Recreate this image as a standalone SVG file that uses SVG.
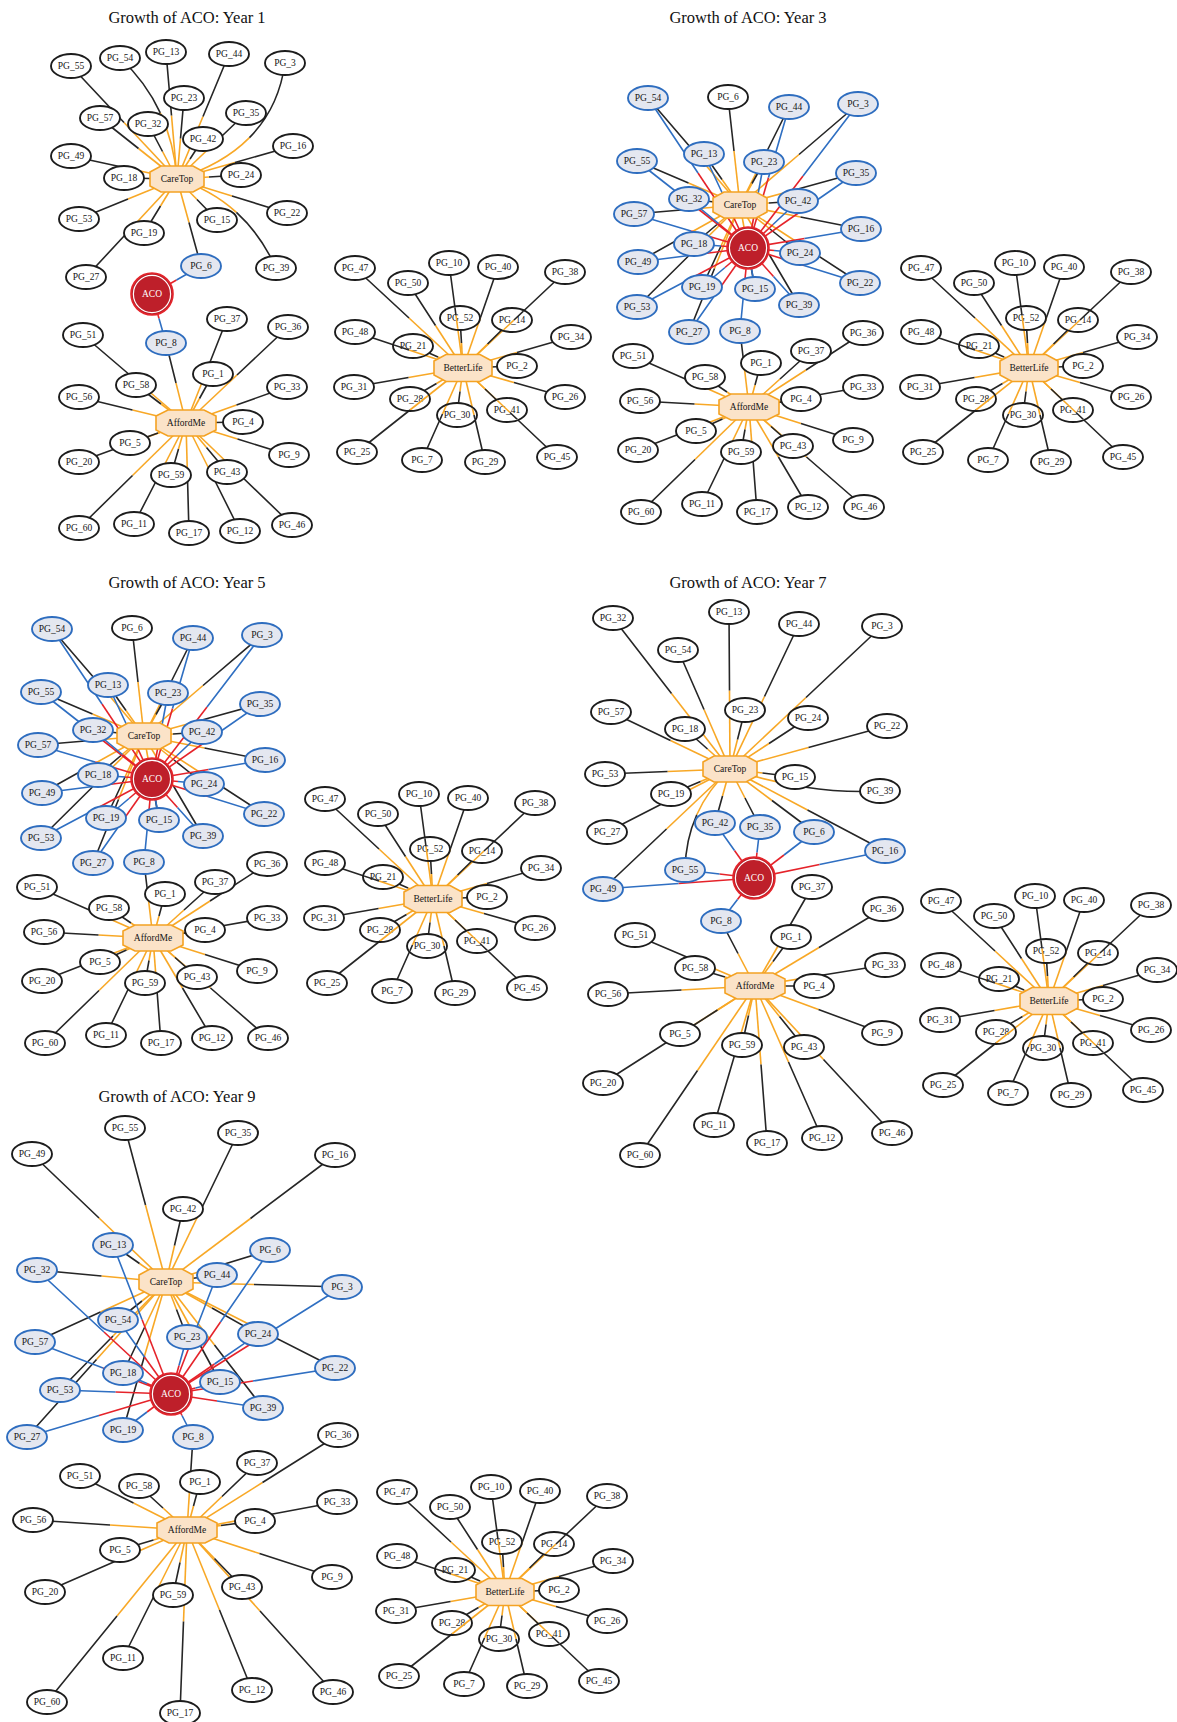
<svg xmlns="http://www.w3.org/2000/svg" xmlns:xlink="http://www.w3.org/1999/xlink" width="1177" height="1722" viewBox="0 0 1177 1722">
<style>
text{font-family:"Liberation Serif","Times New Roman",serif;font-size:9.5px;text-anchor:middle;fill:#151515}
.t{font-size:16.5px;fill:#111}
.n ellipse{fill:#fff;stroke:#1c1c1c;stroke-width:1.9}
.n.b ellipse{fill:#e4e7f0;stroke:#2e6dbf}
.hub use{fill:#fbe3c8;stroke:#f4a223;stroke-width:1.6}
.aco .c1{fill:#be1f2a;stroke:#e4252b;stroke-width:1.6}
.aco .c2{fill:none;stroke:#fff;stroke-width:1.2}
.aco text{fill:#fff}
.o{fill:none;stroke:#f8a826;stroke-width:1.6;stroke-dasharray:1 1}
.k{fill:none;stroke:#262626;stroke-width:1.6;stroke-dasharray:0 1 1 1}
.r{fill:none;stroke:#e5232a;stroke-width:1.6;stroke-dasharray:1 1}
.bl{fill:none;stroke:#2f6fc2;stroke-width:1.6;stroke-dasharray:0 1 1 1}
</style>
<defs>
<polygon id="octC" points="-27,-7 -16,-13 16,-13 27,-7 27,7 16,13 -16,13 -27,7"/>
<polygon id="octA" points="-30,-7 -18,-13 18,-13 30,-7 30,7 18,13 -18,13 -30,7"/>
<polygon id="octB" points="-29,-7 -17,-13.5 17,-13.5 29,-7 29,7 17,13.5 -17,13.5 -29,7"/>
<clipPath id="blx">
<ellipse cx="-3" cy="-50" rx="19" ry="11"/><ellipse cx="49" cy="-48" rx="19" ry="11"/><ellipse cx="-50" cy="-22" rx="19" ry="11"/><ellipse cx="-53" cy="31" rx="19" ry="11"/><ellipse cx="-6" cy="47" rx="19" ry="11"/><ellipse cx="44" cy="42" rx="19" ry="11"/>
</clipPath>
</defs>
<rect width="1177" height="1722" fill="#fff"/>

<!-- ================= YEAR 1 ================= -->
<g id="panel-year1">
<text class="t" x="187" y="23">Growth of ACO: Year 1</text>
<g id="y1-connectors">
<g class="o">
<path id="y1c55" d="M177 179L71 66" pathLength="2"/>
<path id="y1c54" d="M177 179Q171 105 120 58" pathLength="2"/>
<path id="y1c13" d="M177 179L166 52" pathLength="2"/>
<path id="y1c44" d="M177 179L229 54" pathLength="2"/>
<path id="y1c3" d="M177 179Q273 149 285 63" pathLength="2"/>
<path id="y1c57" d="M177 179L100 118" pathLength="2"/>
<path id="y1c32" d="M177 179L148 124" pathLength="2"/>
<path id="y1c23" d="M177 179L184 98" pathLength="2"/>
<path id="y1c35" d="M177 179L246 113" pathLength="2"/>
<path id="y1c42" d="M177 179L203 139" pathLength="2"/>
<path id="y1c16" d="M177 179L293 146" pathLength="2"/>
<path id="y1c49" d="M177 179L71 156" pathLength="2"/>
<path id="y1c18" d="M177 179L124 178" pathLength="2"/>
<path id="y1c24" d="M177 179L241 175" pathLength="2"/>
<path id="y1c22" d="M177 179L287 213" pathLength="2"/>
<path id="y1c53" d="M177 179L79 219" pathLength="2"/>
<path id="y1c15" d="M177 179L217 220" pathLength="2"/>
<path id="y1c19" d="M177 179L144 233" pathLength="2"/>
<path id="y1c39" d="M177 179Q245 200 276 268" pathLength="2"/>
<path id="y1c27" d="M177 179L86 277" pathLength="2"/>
<path id="y1c6" d="M177 179L201 266" pathLength="2"/>
<path id="y1f8" d="M186 423L166 343" pathLength="2"/>
<path id="y1f51" d="M186 423L83 335" pathLength="2"/>
<path id="y1f37" d="M186 423L227 319" pathLength="2"/>
<path id="y1f36" d="M186 423L288 327" pathLength="2"/>
<path id="y1f58" d="M186 423L136 385" pathLength="2"/>
<path id="y1f1" d="M186 423L213 374" pathLength="2"/>
<path id="y1f33" d="M186 423L287 387" pathLength="2"/>
<path id="y1f56" d="M186 423L79 397" pathLength="2"/>
<path id="y1f4" d="M186 423L243 422" pathLength="2"/>
<path id="y1f5" d="M186 423L130 443" pathLength="2"/>
<path id="y1f9" d="M186 423L289 455" pathLength="2"/>
<path id="y1f20" d="M186 423L79 462" pathLength="2"/>
<path id="y1f59" d="M186 423L171 475" pathLength="2"/>
<path id="y1f43" d="M186 423L227 472" pathLength="2"/>
<path id="y1f60" d="M186 423L79 528" pathLength="2"/>
<path id="y1f11" d="M186 423L134 524" pathLength="2"/>
<path id="y1f17" d="M186 423L189 533" pathLength="2"/>
<path id="y1f12" d="M186 423L240 531" pathLength="2"/>
<path id="y1f46" d="M186 423L292 525" pathLength="2"/>
</g>
<g class="k">
<use href="#y1c55"/><use href="#y1c54"/><use href="#y1c13"/><use href="#y1c44"/><use href="#y1c3"/><use href="#y1c57"/><use href="#y1c32"/><use href="#y1c23"/><use href="#y1c35"/><use href="#y1c42"/><use href="#y1c16"/><use href="#y1c49"/><use href="#y1c18"/><use href="#y1c24"/><use href="#y1c22"/><use href="#y1c53"/><use href="#y1c15"/><use href="#y1c19"/><use href="#y1c39"/><use href="#y1c27"/><use href="#y1c6"/>
<use href="#y1f8"/><use href="#y1f51"/><use href="#y1f37"/><use href="#y1f36"/><use href="#y1f58"/><use href="#y1f1"/><use href="#y1f33"/><use href="#y1f56"/><use href="#y1f4"/><use href="#y1f5"/><use href="#y1f9"/><use href="#y1f20"/><use href="#y1f59"/><use href="#y1f43"/><use href="#y1f60"/><use href="#y1f11"/><use href="#y1f17"/><use href="#y1f12"/><use href="#y1f46"/>
</g>
<g class="r">
<path id="y1a6" d="M152 294L201 266" pathLength="2"/>
<path id="y1a8" d="M152 294L166 343" pathLength="2"/>
</g>
<g class="bl"><use href="#y1a6"/><use href="#y1a8"/></g>
<g transform="translate(463 368)">
<g class="o">
<path id="y1b47" d="M0 0L-108-100" pathLength="2"/>
<path id="y1b10" d="M0 0L-14-105" pathLength="2"/>
<path id="y1b40" d="M0 0L35-101" pathLength="2"/>
<path id="y1b38" d="M0 0L102-96" pathLength="2"/>
<path id="y1b50" d="M0 0L-55-85" pathLength="2"/>
<path id="y1b52" d="M0 0L-3-50" pathLength="2"/>
<path id="y1b14" d="M0 0L49-48" pathLength="2"/>
<path id="y1b48" d="M0 0L-108-36" pathLength="2"/>
<path id="y1b21" d="M0 0L-50-22" pathLength="2"/>
<path id="y1b34" d="M0 0L108-31" pathLength="2"/>
<path id="y1b2" d="M0 0L54-2" pathLength="2"/>
<path id="y1b31" d="M0 0L-109 19" pathLength="2"/>
<path id="y1b26" d="M0 0L102 29" pathLength="2"/>
<path id="y1b28" d="M0 0L-53 31" pathLength="2"/>
<path id="y1b30" d="M0 0L-6 47" pathLength="2"/>
<path id="y1b41" d="M0 0L44 42" pathLength="2"/>
<path id="y1b25" d="M0 0L-106 84" pathLength="2"/>
<path id="y1b7" d="M0 0L-41 92" pathLength="2"/>
<path id="y1b29" d="M0 0L22 94" pathLength="2"/>
<path id="y1b45" d="M0 0L94 89" pathLength="2"/>
</g>
<g class="k"><use href="#y1b47"/><use href="#y1b10"/><use href="#y1b40"/><use href="#y1b38"/><use href="#y1b50"/><use href="#y1b52"/><use href="#y1b14"/><use href="#y1b48"/><use href="#y1b21"/><use href="#y1b34"/><use href="#y1b2"/><use href="#y1b31"/><use href="#y1b26"/><use href="#y1b28"/><use href="#y1b30"/><use href="#y1b41"/><use href="#y1b25"/><use href="#y1b7"/><use href="#y1b29"/><use href="#y1b45"/></g>
</g>
</g>
<g id="y1-nodes">
<g id="y1-pg55" class="n" transform="translate(71 66)"><ellipse rx="20" ry="12"/><text y="3.3">PG_55</text></g>
<g id="y1-pg54" class="n" transform="translate(120 58)"><ellipse rx="20" ry="12"/><text y="3.3">PG_54</text></g>
<g id="y1-pg13" class="n" transform="translate(166 52)"><ellipse rx="20" ry="12"/><text y="3.3">PG_13</text></g>
<g id="y1-pg44" class="n" transform="translate(229 54)"><ellipse rx="20" ry="12"/><text y="3.3">PG_44</text></g>
<g id="y1-pg3" class="n" transform="translate(285 63)"><ellipse rx="20" ry="12"/><text y="3.3">PG_3</text></g>
<g id="y1-pg57" class="n" transform="translate(100 118)"><ellipse rx="20" ry="12"/><text y="3.3">PG_57</text></g>
<g id="y1-pg32" class="n" transform="translate(148 124)"><ellipse rx="20" ry="12"/><text y="3.3">PG_32</text></g>
<g id="y1-pg23" class="n" transform="translate(184 98)"><ellipse rx="20" ry="12"/><text y="3.3">PG_23</text></g>
<g id="y1-pg35" class="n" transform="translate(246 113)"><ellipse rx="20" ry="12"/><text y="3.3">PG_35</text></g>
<g id="y1-pg42" class="n" transform="translate(203 139)"><ellipse rx="20" ry="12"/><text y="3.3">PG_42</text></g>
<g id="y1-pg16" class="n" transform="translate(293 146)"><ellipse rx="20" ry="12"/><text y="3.3">PG_16</text></g>
<g id="y1-pg49" class="n" transform="translate(71 156)"><ellipse rx="20" ry="12"/><text y="3.3">PG_49</text></g>
<g id="y1-pg18" class="n" transform="translate(124 178)"><ellipse rx="20" ry="12"/><text y="3.3">PG_18</text></g>
<g id="y1-pg24" class="n" transform="translate(241 175)"><ellipse rx="20" ry="12"/><text y="3.3">PG_24</text></g>
<g id="y1-pg22" class="n" transform="translate(287 213)"><ellipse rx="20" ry="12"/><text y="3.3">PG_22</text></g>
<g id="y1-pg53" class="n" transform="translate(79 219)"><ellipse rx="20" ry="12"/><text y="3.3">PG_53</text></g>
<g id="y1-pg15" class="n" transform="translate(217 220)"><ellipse rx="20" ry="12"/><text y="3.3">PG_15</text></g>
<g id="y1-pg19" class="n" transform="translate(144 233)"><ellipse rx="20" ry="12"/><text y="3.3">PG_19</text></g>
<g id="y1-pg39" class="n" transform="translate(276 268)"><ellipse rx="20" ry="12"/><text y="3.3">PG_39</text></g>
<g id="y1-pg27" class="n" transform="translate(86 277)"><ellipse rx="20" ry="12"/><text y="3.3">PG_27</text></g>
<g id="y1-pg6" class="n b" transform="translate(201 266)"><ellipse rx="20" ry="12"/><text y="3.3">PG_6</text></g>
<g id="y1-caretop" class="hub" transform="translate(177 179)"><use href="#octC"/><text y="3.3">CareTop</text></g>
<g id="y1-aco" class="aco" transform="translate(152 294)"><circle class="c1" r="21"/><circle class="c2" r="18.6"/><text y="3.3">ACO</text></g>
<g id="y1-pg8" class="n b" transform="translate(166 343)"><ellipse rx="20" ry="12"/><text y="3.3">PG_8</text></g>
<g id="y1-pg51" class="n" transform="translate(83 335)"><ellipse rx="20" ry="12"/><text y="3.3">PG_51</text></g>
<g id="y1-pg37" class="n" transform="translate(227 319)"><ellipse rx="20" ry="12"/><text y="3.3">PG_37</text></g>
<g id="y1-pg36" class="n" transform="translate(288 327)"><ellipse rx="20" ry="12"/><text y="3.3">PG_36</text></g>
<g id="y1-pg58" class="n" transform="translate(136 385)"><ellipse rx="20" ry="12"/><text y="3.3">PG_58</text></g>
<g id="y1-pg1" class="n" transform="translate(213 374)"><ellipse rx="20" ry="12"/><text y="3.3">PG_1</text></g>
<g id="y1-pg33" class="n" transform="translate(287 387)"><ellipse rx="20" ry="12"/><text y="3.3">PG_33</text></g>
<g id="y1-pg56" class="n" transform="translate(79 397)"><ellipse rx="20" ry="12"/><text y="3.3">PG_56</text></g>
<g id="y1-pg4" class="n" transform="translate(243 422)"><ellipse rx="20" ry="12"/><text y="3.3">PG_4</text></g>
<g id="y1-pg5" class="n" transform="translate(130 443)"><ellipse rx="20" ry="12"/><text y="3.3">PG_5</text></g>
<g id="y1-pg9" class="n" transform="translate(289 455)"><ellipse rx="20" ry="12"/><text y="3.3">PG_9</text></g>
<g id="y1-pg20" class="n" transform="translate(79 462)"><ellipse rx="20" ry="12"/><text y="3.3">PG_20</text></g>
<g id="y1-pg59" class="n" transform="translate(171 475)"><ellipse rx="20" ry="12"/><text y="3.3">PG_59</text></g>
<g id="y1-pg43" class="n" transform="translate(227 472)"><ellipse rx="20" ry="12"/><text y="3.3">PG_43</text></g>
<g id="y1-pg60" class="n" transform="translate(79 528)"><ellipse rx="20" ry="12"/><text y="3.3">PG_60</text></g>
<g id="y1-pg11" class="n" transform="translate(134 524)"><ellipse rx="20" ry="12"/><text y="3.3">PG_11</text></g>
<g id="y1-pg17" class="n" transform="translate(189 533)"><ellipse rx="20" ry="12"/><text y="3.3">PG_17</text></g>
<g id="y1-pg12" class="n" transform="translate(240 531)"><ellipse rx="20" ry="12"/><text y="3.3">PG_12</text></g>
<g id="y1-pg46" class="n" transform="translate(292 525)"><ellipse rx="20" ry="12"/><text y="3.3">PG_46</text></g>
<g id="y1-affordme" class="hub" transform="translate(186 423)"><use href="#octA"/><text y="3.3">AffordMe</text></g>
<g transform="translate(463 368)">
<g id="y1-pg47" class="n" transform="translate(-108 -100)"><ellipse rx="20" ry="12"/><text y="3.3">PG_47</text></g>
<g id="y1-pg10" class="n" transform="translate(-14 -105)"><ellipse rx="20" ry="12"/><text y="3.3">PG_10</text></g>
<g id="y1-pg40" class="n" transform="translate(35 -101)"><ellipse rx="20" ry="12"/><text y="3.3">PG_40</text></g>
<g id="y1-pg38" class="n" transform="translate(102 -96)"><ellipse rx="20" ry="12"/><text y="3.3">PG_38</text></g>
<g id="y1-pg50" class="n" transform="translate(-55 -85)"><ellipse rx="20" ry="12"/><text y="3.3">PG_50</text></g>
<g id="y1-pg52" class="n" transform="translate(-3 -50)"><ellipse rx="20" ry="12"/><text y="3.3">PG_52</text></g>
<g id="y1-pg14" class="n" transform="translate(49 -48)"><ellipse rx="20" ry="12"/><text y="3.3">PG_14</text></g>
<g id="y1-pg48" class="n" transform="translate(-108 -36)"><ellipse rx="20" ry="12"/><text y="3.3">PG_48</text></g>
<g id="y1-pg21" class="n" transform="translate(-50 -22)"><ellipse rx="20" ry="12"/><text y="3.3">PG_21</text></g>
<g id="y1-pg34" class="n" transform="translate(108 -31)"><ellipse rx="20" ry="12"/><text y="3.3">PG_34</text></g>
<g id="y1-pg2" class="n" transform="translate(54 -2)"><ellipse rx="20" ry="12"/><text y="3.3">PG_2</text></g>
<g id="y1-pg31" class="n" transform="translate(-109 19)"><ellipse rx="20" ry="12"/><text y="3.3">PG_31</text></g>
<g id="y1-pg26" class="n" transform="translate(102 29)"><ellipse rx="20" ry="12"/><text y="3.3">PG_26</text></g>
<g id="y1-pg28" class="n" transform="translate(-53 31)"><ellipse rx="20" ry="12"/><text y="3.3">PG_28</text></g>
<g id="y1-pg30" class="n" transform="translate(-6 47)"><ellipse rx="20" ry="12"/><text y="3.3">PG_30</text></g>
<g id="y1-pg41" class="n" transform="translate(44 42)"><ellipse rx="20" ry="12"/><text y="3.3">PG_41</text></g>
<g id="y1-pg25" class="n" transform="translate(-106 84)"><ellipse rx="20" ry="12"/><text y="3.3">PG_25</text></g>
<g id="y1-pg7" class="n" transform="translate(-41 92)"><ellipse rx="20" ry="12"/><text y="3.3">PG_7</text></g>
<g id="y1-pg29" class="n" transform="translate(22 94)"><ellipse rx="20" ry="12"/><text y="3.3">PG_29</text></g>
<g id="y1-pg45" class="n" transform="translate(94 89)"><ellipse rx="20" ry="12"/><text y="3.3">PG_45</text></g>
<g id="y1-betterlife" class="hub"><use href="#octB"/><text y="3.3">BetterLife</text></g>
<g id="y1-bl-crossings" clip-path="url(#blx)"><g class="o"><use href="#y1b10"/><use href="#y1b38"/><use href="#y1b48"/><use href="#y1b25"/><use href="#y1b7"/><use href="#y1b29"/><use href="#y1b45"/></g><g class="k"><use href="#y1b10"/><use href="#y1b38"/><use href="#y1b48"/><use href="#y1b25"/><use href="#y1b7"/><use href="#y1b29"/><use href="#y1b45"/></g></g>
</g>
</g>
</g>

<!-- ================= YEAR 3 ================= -->
<g id="panel-year3">
<text class="t" x="748" y="23">Growth of ACO: Year 3</text>
<g id="y3-connectors">
<g class="o">
<path id="y3c54" d="M740 205L648 98" pathLength="2"/>
<path id="y3c6" d="M740 205L728 97" pathLength="2"/>
<path id="y3c44" d="M740 205L789 107" pathLength="2"/>
<path id="y3c3" d="M740 205L858 104" pathLength="2"/>
<path id="y3c13" d="M740 205L704 154" pathLength="2"/>
<path id="y3c55" d="M740 205L637 161" pathLength="2"/>
<path id="y3c23" d="M740 205L764 162" pathLength="2"/>
<path id="y3c35" d="M740 205L856 173" pathLength="2"/>
<path id="y3c32" d="M740 205L689 199" pathLength="2"/>
<path id="y3c42" d="M740 205L798 201" pathLength="2"/>
<path id="y3c57" d="M740 205L634 214" pathLength="2"/>
<path id="y3c16" d="M740 205L861 229" pathLength="2"/>
<path id="y3c18" d="M740 205L694 244" pathLength="2"/>
<path id="y3c24" d="M740 205L800 253" pathLength="2"/>
<path id="y3c49" d="M740 205L638 262" pathLength="2"/>
<path id="y3c22" d="M740 205L860 283" pathLength="2"/>
<path id="y3c19" d="M740 205L702 287" pathLength="2"/>
<path id="y3c15" d="M740 205L755 289" pathLength="2"/>
<path id="y3c39" d="M740 205L799 305" pathLength="2"/>
<path id="y3c53" d="M740 205L637 307" pathLength="2"/>
<path id="y3c27" d="M740 205L689 332" pathLength="2"/>
<path id="y3f8" d="M749 407L740 331" pathLength="2"/>
<path id="y3f51" d="M749 407L633 356" pathLength="2"/>
<path id="y3f1" d="M749 407L761 363" pathLength="2"/>
<path id="y3f37" d="M749 407L811 351" pathLength="2"/>
<path id="y3f36" d="M749 407L863 333" pathLength="2"/>
<path id="y3f58" d="M749 407L705 377" pathLength="2"/>
<path id="y3f33" d="M749 407L863 387" pathLength="2"/>
<path id="y3f56" d="M749 407L640 401" pathLength="2"/>
<path id="y3f4" d="M749 407L801 399" pathLength="2"/>
<path id="y3f5" d="M749 407L696 431" pathLength="2"/>
<path id="y3f9" d="M749 407L853 440" pathLength="2"/>
<path id="y3f20" d="M749 407L638 450" pathLength="2"/>
<path id="y3f59" d="M749 407L741 452" pathLength="2"/>
<path id="y3f43" d="M749 407L793 446" pathLength="2"/>
<path id="y3f60" d="M749 407L641 512" pathLength="2"/>
<path id="y3f11" d="M749 407L702 504" pathLength="2"/>
<path id="y3f17" d="M749 407L757 512" pathLength="2"/>
<path id="y3f12" d="M749 407L808 507" pathLength="2"/>
<path id="y3f46" d="M749 407L864 507" pathLength="2"/>
</g>
<g class="k">
<use href="#y3c54"/><use href="#y3c6"/><use href="#y3c44"/><use href="#y3c3"/><use href="#y3c13"/><use href="#y3c55"/><use href="#y3c23"/><use href="#y3c35"/><use href="#y3c32"/><use href="#y3c42"/><use href="#y3c57"/><use href="#y3c16"/><use href="#y3c18"/><use href="#y3c24"/><use href="#y3c49"/><use href="#y3c22"/><use href="#y3c19"/><use href="#y3c15"/><use href="#y3c39"/><use href="#y3c53"/><use href="#y3c27"/>
<use href="#y3f8"/><use href="#y3f51"/><use href="#y3f1"/><use href="#y3f37"/><use href="#y3f36"/><use href="#y3f58"/><use href="#y3f33"/><use href="#y3f56"/><use href="#y3f4"/><use href="#y3f5"/><use href="#y3f9"/><use href="#y3f20"/><use href="#y3f59"/><use href="#y3f43"/><use href="#y3f60"/><use href="#y3f11"/><use href="#y3f17"/><use href="#y3f12"/><use href="#y3f46"/>
</g>
<g class="r">
<path id="y3a54" d="M748 248L648 98" pathLength="2"/>
<path id="y3a44" d="M748 248L789 107" pathLength="2"/>
<path id="y3a3" d="M748 248L858 104" pathLength="2"/>
<path id="y3a13" d="M748 248L704 154" pathLength="2"/>
<path id="y3a55" d="M748 248L637 161" pathLength="2"/>
<path id="y3a23" d="M748 248L764 162" pathLength="2"/>
<path id="y3a35" d="M748 248L856 173" pathLength="2"/>
<path id="y3a32" d="M748 248L689 199" pathLength="2"/>
<path id="y3a42" d="M748 248L798 201" pathLength="2"/>
<path id="y3a57" d="M748 248L634 214" pathLength="2"/>
<path id="y3a16" d="M748 248L861 229" pathLength="2"/>
<path id="y3a18" d="M748 248L694 244" pathLength="2"/>
<path id="y3a24" d="M748 248L800 253" pathLength="2"/>
<path id="y3a49" d="M748 248L638 262" pathLength="2"/>
<path id="y3a22" d="M748 248L860 283" pathLength="2"/>
<path id="y3a19" d="M748 248L702 287" pathLength="2"/>
<path id="y3a15" d="M748 248L755 289" pathLength="2"/>
<path id="y3a39" d="M748 248L799 305" pathLength="2"/>
<path id="y3a53" d="M748 248L637 307" pathLength="2"/>
<path id="y3a27" d="M748 248L689 332" pathLength="2"/>
<path id="y3a8" d="M748 248L740 331" pathLength="2"/>
</g>
<g class="bl"><use href="#y3a54"/><use href="#y3a44"/><use href="#y3a3"/><use href="#y3a13"/><use href="#y3a55"/><use href="#y3a23"/><use href="#y3a35"/><use href="#y3a32"/><use href="#y3a42"/><use href="#y3a57"/><use href="#y3a16"/><use href="#y3a18"/><use href="#y3a24"/><use href="#y3a49"/><use href="#y3a22"/><use href="#y3a19"/><use href="#y3a15"/><use href="#y3a39"/><use href="#y3a53"/><use href="#y3a27"/><use href="#y3a8"/></g>
<g transform="translate(1029 368)">
<g class="o">
<path id="y3b47" d="M0 0L-108-100" pathLength="2"/>
<path id="y3b10" d="M0 0L-14-105" pathLength="2"/>
<path id="y3b40" d="M0 0L35-101" pathLength="2"/>
<path id="y3b38" d="M0 0L102-96" pathLength="2"/>
<path id="y3b50" d="M0 0L-55-85" pathLength="2"/>
<path id="y3b52" d="M0 0L-3-50" pathLength="2"/>
<path id="y3b14" d="M0 0L49-48" pathLength="2"/>
<path id="y3b48" d="M0 0L-108-36" pathLength="2"/>
<path id="y3b21" d="M0 0L-50-22" pathLength="2"/>
<path id="y3b34" d="M0 0L108-31" pathLength="2"/>
<path id="y3b2" d="M0 0L54-2" pathLength="2"/>
<path id="y3b31" d="M0 0L-109 19" pathLength="2"/>
<path id="y3b26" d="M0 0L102 29" pathLength="2"/>
<path id="y3b28" d="M0 0L-53 31" pathLength="2"/>
<path id="y3b30" d="M0 0L-6 47" pathLength="2"/>
<path id="y3b41" d="M0 0L44 42" pathLength="2"/>
<path id="y3b25" d="M0 0L-106 84" pathLength="2"/>
<path id="y3b7" d="M0 0L-41 92" pathLength="2"/>
<path id="y3b29" d="M0 0L22 94" pathLength="2"/>
<path id="y3b45" d="M0 0L94 89" pathLength="2"/>
</g>
<g class="k"><use href="#y3b47"/><use href="#y3b10"/><use href="#y3b40"/><use href="#y3b38"/><use href="#y3b50"/><use href="#y3b52"/><use href="#y3b14"/><use href="#y3b48"/><use href="#y3b21"/><use href="#y3b34"/><use href="#y3b2"/><use href="#y3b31"/><use href="#y3b26"/><use href="#y3b28"/><use href="#y3b30"/><use href="#y3b41"/><use href="#y3b25"/><use href="#y3b7"/><use href="#y3b29"/><use href="#y3b45"/></g>
</g>
</g>
<g id="y3-nodes">
<g id="y3-pg54" class="n b" transform="translate(648 98)"><ellipse rx="20" ry="12"/><text y="3.3">PG_54</text></g>
<g id="y3-pg6" class="n" transform="translate(728 97)"><ellipse rx="20" ry="12"/><text y="3.3">PG_6</text></g>
<g id="y3-pg44" class="n b" transform="translate(789 107)"><ellipse rx="20" ry="12"/><text y="3.3">PG_44</text></g>
<g id="y3-pg3" class="n b" transform="translate(858 104)"><ellipse rx="20" ry="12"/><text y="3.3">PG_3</text></g>
<g id="y3-pg13" class="n b" transform="translate(704 154)"><ellipse rx="20" ry="12"/><text y="3.3">PG_13</text></g>
<g id="y3-pg55" class="n b" transform="translate(637 161)"><ellipse rx="20" ry="12"/><text y="3.3">PG_55</text></g>
<g id="y3-pg23" class="n b" transform="translate(764 162)"><ellipse rx="20" ry="12"/><text y="3.3">PG_23</text></g>
<g id="y3-pg35" class="n b" transform="translate(856 173)"><ellipse rx="20" ry="12"/><text y="3.3">PG_35</text></g>
<g id="y3-pg32" class="n b" transform="translate(689 199)"><ellipse rx="20" ry="12"/><text y="3.3">PG_32</text></g>
<g id="y3-pg42" class="n b" transform="translate(798 201)"><ellipse rx="20" ry="12"/><text y="3.3">PG_42</text></g>
<g id="y3-pg57" class="n b" transform="translate(634 214)"><ellipse rx="20" ry="12"/><text y="3.3">PG_57</text></g>
<g id="y3-pg16" class="n b" transform="translate(861 229)"><ellipse rx="20" ry="12"/><text y="3.3">PG_16</text></g>
<g id="y3-pg18" class="n b" transform="translate(694 244)"><ellipse rx="20" ry="12"/><text y="3.3">PG_18</text></g>
<g id="y3-pg24" class="n b" transform="translate(800 253)"><ellipse rx="20" ry="12"/><text y="3.3">PG_24</text></g>
<g id="y3-pg49" class="n b" transform="translate(638 262)"><ellipse rx="20" ry="12"/><text y="3.3">PG_49</text></g>
<g id="y3-pg22" class="n b" transform="translate(860 283)"><ellipse rx="20" ry="12"/><text y="3.3">PG_22</text></g>
<g id="y3-pg19" class="n b" transform="translate(702 287)"><ellipse rx="20" ry="12"/><text y="3.3">PG_19</text></g>
<g id="y3-pg15" class="n b" transform="translate(755 289)"><ellipse rx="20" ry="12"/><text y="3.3">PG_15</text></g>
<g id="y3-pg39" class="n b" transform="translate(799 305)"><ellipse rx="20" ry="12"/><text y="3.3">PG_39</text></g>
<g id="y3-pg53" class="n b" transform="translate(637 307)"><ellipse rx="20" ry="12"/><text y="3.3">PG_53</text></g>
<g id="y3-pg27" class="n b" transform="translate(689 332)"><ellipse rx="20" ry="12"/><text y="3.3">PG_27</text></g>
<g id="y3-caretop" class="hub" transform="translate(740 205)"><use href="#octC"/><text y="3.3">CareTop</text></g>
<g id="y3-aco" class="aco" transform="translate(748 248)"><circle class="c1" r="21"/><circle class="c2" r="18.6"/><text y="3.3">ACO</text></g>
<g id="y3-pg8" class="n b" transform="translate(740 331)"><ellipse rx="20" ry="12"/><text y="3.3">PG_8</text></g>
<g id="y3-pg51" class="n" transform="translate(633 356)"><ellipse rx="20" ry="12"/><text y="3.3">PG_51</text></g>
<g id="y3-pg1" class="n" transform="translate(761 363)"><ellipse rx="20" ry="12"/><text y="3.3">PG_1</text></g>
<g id="y3-pg37" class="n" transform="translate(811 351)"><ellipse rx="20" ry="12"/><text y="3.3">PG_37</text></g>
<g id="y3-pg36" class="n" transform="translate(863 333)"><ellipse rx="20" ry="12"/><text y="3.3">PG_36</text></g>
<g id="y3-pg58" class="n" transform="translate(705 377)"><ellipse rx="20" ry="12"/><text y="3.3">PG_58</text></g>
<g id="y3-pg33" class="n" transform="translate(863 387)"><ellipse rx="20" ry="12"/><text y="3.3">PG_33</text></g>
<g id="y3-pg56" class="n" transform="translate(640 401)"><ellipse rx="20" ry="12"/><text y="3.3">PG_56</text></g>
<g id="y3-pg4" class="n" transform="translate(801 399)"><ellipse rx="20" ry="12"/><text y="3.3">PG_4</text></g>
<g id="y3-pg5" class="n" transform="translate(696 431)"><ellipse rx="20" ry="12"/><text y="3.3">PG_5</text></g>
<g id="y3-pg9" class="n" transform="translate(853 440)"><ellipse rx="20" ry="12"/><text y="3.3">PG_9</text></g>
<g id="y3-pg20" class="n" transform="translate(638 450)"><ellipse rx="20" ry="12"/><text y="3.3">PG_20</text></g>
<g id="y3-pg59" class="n" transform="translate(741 452)"><ellipse rx="20" ry="12"/><text y="3.3">PG_59</text></g>
<g id="y3-pg43" class="n" transform="translate(793 446)"><ellipse rx="20" ry="12"/><text y="3.3">PG_43</text></g>
<g id="y3-pg60" class="n" transform="translate(641 512)"><ellipse rx="20" ry="12"/><text y="3.3">PG_60</text></g>
<g id="y3-pg11" class="n" transform="translate(702 504)"><ellipse rx="20" ry="12"/><text y="3.3">PG_11</text></g>
<g id="y3-pg17" class="n" transform="translate(757 512)"><ellipse rx="20" ry="12"/><text y="3.3">PG_17</text></g>
<g id="y3-pg12" class="n" transform="translate(808 507)"><ellipse rx="20" ry="12"/><text y="3.3">PG_12</text></g>
<g id="y3-pg46" class="n" transform="translate(864 507)"><ellipse rx="20" ry="12"/><text y="3.3">PG_46</text></g>
<g id="y3-affordme" class="hub" transform="translate(749 407)"><use href="#octA"/><text y="3.3">AffordMe</text></g>
<g transform="translate(1029 368)">
<g id="y3-pg47" class="n" transform="translate(-108 -100)"><ellipse rx="20" ry="12"/><text y="3.3">PG_47</text></g>
<g id="y3-pg10" class="n" transform="translate(-14 -105)"><ellipse rx="20" ry="12"/><text y="3.3">PG_10</text></g>
<g id="y3-pg40" class="n" transform="translate(35 -101)"><ellipse rx="20" ry="12"/><text y="3.3">PG_40</text></g>
<g id="y3-pg38" class="n" transform="translate(102 -96)"><ellipse rx="20" ry="12"/><text y="3.3">PG_38</text></g>
<g id="y3-pg50" class="n" transform="translate(-55 -85)"><ellipse rx="20" ry="12"/><text y="3.3">PG_50</text></g>
<g id="y3-pg52" class="n" transform="translate(-3 -50)"><ellipse rx="20" ry="12"/><text y="3.3">PG_52</text></g>
<g id="y3-pg14" class="n" transform="translate(49 -48)"><ellipse rx="20" ry="12"/><text y="3.3">PG_14</text></g>
<g id="y3-pg48" class="n" transform="translate(-108 -36)"><ellipse rx="20" ry="12"/><text y="3.3">PG_48</text></g>
<g id="y3-pg21" class="n" transform="translate(-50 -22)"><ellipse rx="20" ry="12"/><text y="3.3">PG_21</text></g>
<g id="y3-pg34" class="n" transform="translate(108 -31)"><ellipse rx="20" ry="12"/><text y="3.3">PG_34</text></g>
<g id="y3-pg2" class="n" transform="translate(54 -2)"><ellipse rx="20" ry="12"/><text y="3.3">PG_2</text></g>
<g id="y3-pg31" class="n" transform="translate(-109 19)"><ellipse rx="20" ry="12"/><text y="3.3">PG_31</text></g>
<g id="y3-pg26" class="n" transform="translate(102 29)"><ellipse rx="20" ry="12"/><text y="3.3">PG_26</text></g>
<g id="y3-pg28" class="n" transform="translate(-53 31)"><ellipse rx="20" ry="12"/><text y="3.3">PG_28</text></g>
<g id="y3-pg30" class="n" transform="translate(-6 47)"><ellipse rx="20" ry="12"/><text y="3.3">PG_30</text></g>
<g id="y3-pg41" class="n" transform="translate(44 42)"><ellipse rx="20" ry="12"/><text y="3.3">PG_41</text></g>
<g id="y3-pg25" class="n" transform="translate(-106 84)"><ellipse rx="20" ry="12"/><text y="3.3">PG_25</text></g>
<g id="y3-pg7" class="n" transform="translate(-41 92)"><ellipse rx="20" ry="12"/><text y="3.3">PG_7</text></g>
<g id="y3-pg29" class="n" transform="translate(22 94)"><ellipse rx="20" ry="12"/><text y="3.3">PG_29</text></g>
<g id="y3-pg45" class="n" transform="translate(94 89)"><ellipse rx="20" ry="12"/><text y="3.3">PG_45</text></g>
<g id="y3-betterlife" class="hub"><use href="#octB"/><text y="3.3">BetterLife</text></g>
<g id="y3-bl-crossings" clip-path="url(#blx)"><g class="o"><use href="#y3b10"/><use href="#y3b38"/><use href="#y3b48"/><use href="#y3b25"/><use href="#y3b7"/><use href="#y3b29"/><use href="#y3b45"/></g><g class="k"><use href="#y3b10"/><use href="#y3b38"/><use href="#y3b48"/><use href="#y3b25"/><use href="#y3b7"/><use href="#y3b29"/><use href="#y3b45"/></g></g>
</g>
</g>
</g>

<!-- ================= YEAR 5 ================= -->
<g id="panel-year5">
<text class="t" x="187" y="588">Growth of ACO: Year 5</text>
<g transform="translate(-596 531)">
<g id="y5-connectors">
<g class="o">
<path id="y5c54" d="M740 205L648 98" pathLength="2"/>
<path id="y5c6" d="M740 205L728 97" pathLength="2"/>
<path id="y5c44" d="M740 205L789 107" pathLength="2"/>
<path id="y5c3" d="M740 205L858 104" pathLength="2"/>
<path id="y5c13" d="M740 205L704 154" pathLength="2"/>
<path id="y5c55" d="M740 205L637 161" pathLength="2"/>
<path id="y5c23" d="M740 205L764 162" pathLength="2"/>
<path id="y5c35" d="M740 205L856 173" pathLength="2"/>
<path id="y5c32" d="M740 205L689 199" pathLength="2"/>
<path id="y5c42" d="M740 205L798 201" pathLength="2"/>
<path id="y5c57" d="M740 205L634 214" pathLength="2"/>
<path id="y5c16" d="M740 205L861 229" pathLength="2"/>
<path id="y5c18" d="M740 205L694 244" pathLength="2"/>
<path id="y5c24" d="M740 205L800 253" pathLength="2"/>
<path id="y5c49" d="M740 205L638 262" pathLength="2"/>
<path id="y5c22" d="M740 205L860 283" pathLength="2"/>
<path id="y5c19" d="M740 205L702 287" pathLength="2"/>
<path id="y5c15" d="M740 205L755 289" pathLength="2"/>
<path id="y5c39" d="M740 205L799 305" pathLength="2"/>
<path id="y5c53" d="M740 205L637 307" pathLength="2"/>
<path id="y5c27" d="M740 205L689 332" pathLength="2"/>
<path id="y5f8" d="M749 407L740 331" pathLength="2"/>
<path id="y5f51" d="M749 407L633 356" pathLength="2"/>
<path id="y5f1" d="M749 407L761 363" pathLength="2"/>
<path id="y5f37" d="M749 407L811 351" pathLength="2"/>
<path id="y5f36" d="M749 407L863 333" pathLength="2"/>
<path id="y5f58" d="M749 407L705 377" pathLength="2"/>
<path id="y5f33" d="M749 407L863 387" pathLength="2"/>
<path id="y5f56" d="M749 407L640 401" pathLength="2"/>
<path id="y5f4" d="M749 407L801 399" pathLength="2"/>
<path id="y5f5" d="M749 407L696 431" pathLength="2"/>
<path id="y5f9" d="M749 407L853 440" pathLength="2"/>
<path id="y5f20" d="M749 407L638 450" pathLength="2"/>
<path id="y5f59" d="M749 407L741 452" pathLength="2"/>
<path id="y5f43" d="M749 407L793 446" pathLength="2"/>
<path id="y5f60" d="M749 407L641 512" pathLength="2"/>
<path id="y5f11" d="M749 407L702 504" pathLength="2"/>
<path id="y5f17" d="M749 407L757 512" pathLength="2"/>
<path id="y5f12" d="M749 407L808 507" pathLength="2"/>
<path id="y5f46" d="M749 407L864 507" pathLength="2"/>
</g>
<g class="k">
<use href="#y5c54"/><use href="#y5c6"/><use href="#y5c44"/><use href="#y5c3"/><use href="#y5c13"/><use href="#y5c55"/><use href="#y5c23"/><use href="#y5c35"/><use href="#y5c32"/><use href="#y5c42"/><use href="#y5c57"/><use href="#y5c16"/><use href="#y5c18"/><use href="#y5c24"/><use href="#y5c49"/><use href="#y5c22"/><use href="#y5c19"/><use href="#y5c15"/><use href="#y5c39"/><use href="#y5c53"/><use href="#y5c27"/>
<use href="#y5f8"/><use href="#y5f51"/><use href="#y5f1"/><use href="#y5f37"/><use href="#y5f36"/><use href="#y5f58"/><use href="#y5f33"/><use href="#y5f56"/><use href="#y5f4"/><use href="#y5f5"/><use href="#y5f9"/><use href="#y5f20"/><use href="#y5f59"/><use href="#y5f43"/><use href="#y5f60"/><use href="#y5f11"/><use href="#y5f17"/><use href="#y5f12"/><use href="#y5f46"/>
</g>
<g class="r">
<path id="y5a54" d="M748 248L648 98" pathLength="2"/>
<path id="y5a44" d="M748 248L789 107" pathLength="2"/>
<path id="y5a3" d="M748 248L858 104" pathLength="2"/>
<path id="y5a13" d="M748 248L704 154" pathLength="2"/>
<path id="y5a55" d="M748 248L637 161" pathLength="2"/>
<path id="y5a23" d="M748 248L764 162" pathLength="2"/>
<path id="y5a35" d="M748 248L856 173" pathLength="2"/>
<path id="y5a32" d="M748 248L689 199" pathLength="2"/>
<path id="y5a42" d="M748 248L798 201" pathLength="2"/>
<path id="y5a57" d="M748 248L634 214" pathLength="2"/>
<path id="y5a16" d="M748 248L861 229" pathLength="2"/>
<path id="y5a18" d="M748 248L694 244" pathLength="2"/>
<path id="y5a24" d="M748 248L800 253" pathLength="2"/>
<path id="y5a49" d="M748 248L638 262" pathLength="2"/>
<path id="y5a22" d="M748 248L860 283" pathLength="2"/>
<path id="y5a19" d="M748 248L702 287" pathLength="2"/>
<path id="y5a15" d="M748 248L755 289" pathLength="2"/>
<path id="y5a39" d="M748 248L799 305" pathLength="2"/>
<path id="y5a53" d="M748 248L637 307" pathLength="2"/>
<path id="y5a27" d="M748 248L689 332" pathLength="2"/>
<path id="y5a8" d="M748 248L740 331" pathLength="2"/>
</g>
<g class="bl"><use href="#y5a54"/><use href="#y5a44"/><use href="#y5a3"/><use href="#y5a13"/><use href="#y5a55"/><use href="#y5a23"/><use href="#y5a35"/><use href="#y5a32"/><use href="#y5a42"/><use href="#y5a57"/><use href="#y5a16"/><use href="#y5a18"/><use href="#y5a24"/><use href="#y5a49"/><use href="#y5a22"/><use href="#y5a19"/><use href="#y5a15"/><use href="#y5a39"/><use href="#y5a53"/><use href="#y5a27"/><use href="#y5a8"/></g>
<g transform="translate(1029 368)">
<g class="o">
<path id="y5b47" d="M0 0L-108-100" pathLength="2"/>
<path id="y5b10" d="M0 0L-14-105" pathLength="2"/>
<path id="y5b40" d="M0 0L35-101" pathLength="2"/>
<path id="y5b38" d="M0 0L102-96" pathLength="2"/>
<path id="y5b50" d="M0 0L-55-85" pathLength="2"/>
<path id="y5b52" d="M0 0L-3-50" pathLength="2"/>
<path id="y5b14" d="M0 0L49-48" pathLength="2"/>
<path id="y5b48" d="M0 0L-108-36" pathLength="2"/>
<path id="y5b21" d="M0 0L-50-22" pathLength="2"/>
<path id="y5b34" d="M0 0L108-31" pathLength="2"/>
<path id="y5b2" d="M0 0L54-2" pathLength="2"/>
<path id="y5b31" d="M0 0L-109 19" pathLength="2"/>
<path id="y5b26" d="M0 0L102 29" pathLength="2"/>
<path id="y5b28" d="M0 0L-53 31" pathLength="2"/>
<path id="y5b30" d="M0 0L-6 47" pathLength="2"/>
<path id="y5b41" d="M0 0L44 42" pathLength="2"/>
<path id="y5b25" d="M0 0L-106 84" pathLength="2"/>
<path id="y5b7" d="M0 0L-41 92" pathLength="2"/>
<path id="y5b29" d="M0 0L22 94" pathLength="2"/>
<path id="y5b45" d="M0 0L94 89" pathLength="2"/>
</g>
<g class="k"><use href="#y5b47"/><use href="#y5b10"/><use href="#y5b40"/><use href="#y5b38"/><use href="#y5b50"/><use href="#y5b52"/><use href="#y5b14"/><use href="#y5b48"/><use href="#y5b21"/><use href="#y5b34"/><use href="#y5b2"/><use href="#y5b31"/><use href="#y5b26"/><use href="#y5b28"/><use href="#y5b30"/><use href="#y5b41"/><use href="#y5b25"/><use href="#y5b7"/><use href="#y5b29"/><use href="#y5b45"/></g>
</g>
</g>
<g id="y5-nodes">
<g id="y5-pg54" class="n b" transform="translate(648 98)"><ellipse rx="20" ry="12"/><text y="3.3">PG_54</text></g>
<g id="y5-pg6" class="n" transform="translate(728 97)"><ellipse rx="20" ry="12"/><text y="3.3">PG_6</text></g>
<g id="y5-pg44" class="n b" transform="translate(789 107)"><ellipse rx="20" ry="12"/><text y="3.3">PG_44</text></g>
<g id="y5-pg3" class="n b" transform="translate(858 104)"><ellipse rx="20" ry="12"/><text y="3.3">PG_3</text></g>
<g id="y5-pg13" class="n b" transform="translate(704 154)"><ellipse rx="20" ry="12"/><text y="3.3">PG_13</text></g>
<g id="y5-pg55" class="n b" transform="translate(637 161)"><ellipse rx="20" ry="12"/><text y="3.3">PG_55</text></g>
<g id="y5-pg23" class="n b" transform="translate(764 162)"><ellipse rx="20" ry="12"/><text y="3.3">PG_23</text></g>
<g id="y5-pg35" class="n b" transform="translate(856 173)"><ellipse rx="20" ry="12"/><text y="3.3">PG_35</text></g>
<g id="y5-pg32" class="n b" transform="translate(689 199)"><ellipse rx="20" ry="12"/><text y="3.3">PG_32</text></g>
<g id="y5-pg42" class="n b" transform="translate(798 201)"><ellipse rx="20" ry="12"/><text y="3.3">PG_42</text></g>
<g id="y5-pg57" class="n b" transform="translate(634 214)"><ellipse rx="20" ry="12"/><text y="3.3">PG_57</text></g>
<g id="y5-pg16" class="n b" transform="translate(861 229)"><ellipse rx="20" ry="12"/><text y="3.3">PG_16</text></g>
<g id="y5-pg18" class="n b" transform="translate(694 244)"><ellipse rx="20" ry="12"/><text y="3.3">PG_18</text></g>
<g id="y5-pg24" class="n b" transform="translate(800 253)"><ellipse rx="20" ry="12"/><text y="3.3">PG_24</text></g>
<g id="y5-pg49" class="n b" transform="translate(638 262)"><ellipse rx="20" ry="12"/><text y="3.3">PG_49</text></g>
<g id="y5-pg22" class="n b" transform="translate(860 283)"><ellipse rx="20" ry="12"/><text y="3.3">PG_22</text></g>
<g id="y5-pg19" class="n b" transform="translate(702 287)"><ellipse rx="20" ry="12"/><text y="3.3">PG_19</text></g>
<g id="y5-pg15" class="n b" transform="translate(755 289)"><ellipse rx="20" ry="12"/><text y="3.3">PG_15</text></g>
<g id="y5-pg39" class="n b" transform="translate(799 305)"><ellipse rx="20" ry="12"/><text y="3.3">PG_39</text></g>
<g id="y5-pg53" class="n b" transform="translate(637 307)"><ellipse rx="20" ry="12"/><text y="3.3">PG_53</text></g>
<g id="y5-pg27" class="n b" transform="translate(689 332)"><ellipse rx="20" ry="12"/><text y="3.3">PG_27</text></g>
<g id="y5-caretop" class="hub" transform="translate(740 205)"><use href="#octC"/><text y="3.3">CareTop</text></g>
<g id="y5-aco" class="aco" transform="translate(748 248)"><circle class="c1" r="21"/><circle class="c2" r="18.6"/><text y="3.3">ACO</text></g>
<g id="y5-pg8" class="n b" transform="translate(740 331)"><ellipse rx="20" ry="12"/><text y="3.3">PG_8</text></g>
<g id="y5-pg51" class="n" transform="translate(633 356)"><ellipse rx="20" ry="12"/><text y="3.3">PG_51</text></g>
<g id="y5-pg1" class="n" transform="translate(761 363)"><ellipse rx="20" ry="12"/><text y="3.3">PG_1</text></g>
<g id="y5-pg37" class="n" transform="translate(811 351)"><ellipse rx="20" ry="12"/><text y="3.3">PG_37</text></g>
<g id="y5-pg36" class="n" transform="translate(863 333)"><ellipse rx="20" ry="12"/><text y="3.3">PG_36</text></g>
<g id="y5-pg58" class="n" transform="translate(705 377)"><ellipse rx="20" ry="12"/><text y="3.3">PG_58</text></g>
<g id="y5-pg33" class="n" transform="translate(863 387)"><ellipse rx="20" ry="12"/><text y="3.3">PG_33</text></g>
<g id="y5-pg56" class="n" transform="translate(640 401)"><ellipse rx="20" ry="12"/><text y="3.3">PG_56</text></g>
<g id="y5-pg4" class="n" transform="translate(801 399)"><ellipse rx="20" ry="12"/><text y="3.3">PG_4</text></g>
<g id="y5-pg5" class="n" transform="translate(696 431)"><ellipse rx="20" ry="12"/><text y="3.3">PG_5</text></g>
<g id="y5-pg9" class="n" transform="translate(853 440)"><ellipse rx="20" ry="12"/><text y="3.3">PG_9</text></g>
<g id="y5-pg20" class="n" transform="translate(638 450)"><ellipse rx="20" ry="12"/><text y="3.3">PG_20</text></g>
<g id="y5-pg59" class="n" transform="translate(741 452)"><ellipse rx="20" ry="12"/><text y="3.3">PG_59</text></g>
<g id="y5-pg43" class="n" transform="translate(793 446)"><ellipse rx="20" ry="12"/><text y="3.3">PG_43</text></g>
<g id="y5-pg60" class="n" transform="translate(641 512)"><ellipse rx="20" ry="12"/><text y="3.3">PG_60</text></g>
<g id="y5-pg11" class="n" transform="translate(702 504)"><ellipse rx="20" ry="12"/><text y="3.3">PG_11</text></g>
<g id="y5-pg17" class="n" transform="translate(757 512)"><ellipse rx="20" ry="12"/><text y="3.3">PG_17</text></g>
<g id="y5-pg12" class="n" transform="translate(808 507)"><ellipse rx="20" ry="12"/><text y="3.3">PG_12</text></g>
<g id="y5-pg46" class="n" transform="translate(864 507)"><ellipse rx="20" ry="12"/><text y="3.3">PG_46</text></g>
<g id="y5-affordme" class="hub" transform="translate(749 407)"><use href="#octA"/><text y="3.3">AffordMe</text></g>
<g transform="translate(1029 368)">
<g id="y5-pg47" class="n" transform="translate(-108 -100)"><ellipse rx="20" ry="12"/><text y="3.3">PG_47</text></g>
<g id="y5-pg10" class="n" transform="translate(-14 -105)"><ellipse rx="20" ry="12"/><text y="3.3">PG_10</text></g>
<g id="y5-pg40" class="n" transform="translate(35 -101)"><ellipse rx="20" ry="12"/><text y="3.3">PG_40</text></g>
<g id="y5-pg38" class="n" transform="translate(102 -96)"><ellipse rx="20" ry="12"/><text y="3.3">PG_38</text></g>
<g id="y5-pg50" class="n" transform="translate(-55 -85)"><ellipse rx="20" ry="12"/><text y="3.3">PG_50</text></g>
<g id="y5-pg52" class="n" transform="translate(-3 -50)"><ellipse rx="20" ry="12"/><text y="3.3">PG_52</text></g>
<g id="y5-pg14" class="n" transform="translate(49 -48)"><ellipse rx="20" ry="12"/><text y="3.3">PG_14</text></g>
<g id="y5-pg48" class="n" transform="translate(-108 -36)"><ellipse rx="20" ry="12"/><text y="3.3">PG_48</text></g>
<g id="y5-pg21" class="n" transform="translate(-50 -22)"><ellipse rx="20" ry="12"/><text y="3.3">PG_21</text></g>
<g id="y5-pg34" class="n" transform="translate(108 -31)"><ellipse rx="20" ry="12"/><text y="3.3">PG_34</text></g>
<g id="y5-pg2" class="n" transform="translate(54 -2)"><ellipse rx="20" ry="12"/><text y="3.3">PG_2</text></g>
<g id="y5-pg31" class="n" transform="translate(-109 19)"><ellipse rx="20" ry="12"/><text y="3.3">PG_31</text></g>
<g id="y5-pg26" class="n" transform="translate(102 29)"><ellipse rx="20" ry="12"/><text y="3.3">PG_26</text></g>
<g id="y5-pg28" class="n" transform="translate(-53 31)"><ellipse rx="20" ry="12"/><text y="3.3">PG_28</text></g>
<g id="y5-pg30" class="n" transform="translate(-6 47)"><ellipse rx="20" ry="12"/><text y="3.3">PG_30</text></g>
<g id="y5-pg41" class="n" transform="translate(44 42)"><ellipse rx="20" ry="12"/><text y="3.3">PG_41</text></g>
<g id="y5-pg25" class="n" transform="translate(-106 84)"><ellipse rx="20" ry="12"/><text y="3.3">PG_25</text></g>
<g id="y5-pg7" class="n" transform="translate(-41 92)"><ellipse rx="20" ry="12"/><text y="3.3">PG_7</text></g>
<g id="y5-pg29" class="n" transform="translate(22 94)"><ellipse rx="20" ry="12"/><text y="3.3">PG_29</text></g>
<g id="y5-pg45" class="n" transform="translate(94 89)"><ellipse rx="20" ry="12"/><text y="3.3">PG_45</text></g>
<g id="y5-betterlife" class="hub"><use href="#octB"/><text y="3.3">BetterLife</text></g>
<g id="y5-bl-crossings" clip-path="url(#blx)"><g class="o"><use href="#y5b10"/><use href="#y5b38"/><use href="#y5b48"/><use href="#y5b25"/><use href="#y5b7"/><use href="#y5b29"/><use href="#y5b45"/></g><g class="k"><use href="#y5b10"/><use href="#y5b38"/><use href="#y5b48"/><use href="#y5b25"/><use href="#y5b7"/><use href="#y5b29"/><use href="#y5b45"/></g></g>
</g>
</g>
</g>
</g>

<!-- ================= YEAR 7 ================= -->
<g id="panel-year7">
<text class="t" x="748" y="588">Growth of ACO: Year 7</text>
<g id="y7-connectors">
<g class="o">
<path id="y7c32" d="M730 769L613 618" pathLength="2"/>
<path id="y7c13" d="M730 769L729 612" pathLength="2"/>
<path id="y7c44" d="M730 769L799 624" pathLength="2"/>
<path id="y7c3" d="M730 769L882 626" pathLength="2"/>
<path id="y7c54" d="M730 769L678 650" pathLength="2"/>
<path id="y7c57" d="M730 769L611 712" pathLength="2"/>
<path id="y7c23" d="M730 769L745 710" pathLength="2"/>
<path id="y7c24" d="M730 769L808 718" pathLength="2"/>
<path id="y7c22" d="M730 769L887 726" pathLength="2"/>
<path id="y7c18" d="M730 769L685 729" pathLength="2"/>
<path id="y7c53" d="M730 769L605 774" pathLength="2"/>
<path id="y7c15" d="M730 769L795 777" pathLength="2"/>
<path id="y7c39" d="M730 769Q810 795 880 791" pathLength="2"/>
<path id="y7c19" d="M730 769L671 794" pathLength="2"/>
<path id="y7c27" d="M730 769L607 832" pathLength="2"/>
<path id="y7c42" d="M730 769L715 823" pathLength="2"/>
<path id="y7c35" d="M730 769L760 827" pathLength="2"/>
<path id="y7c6" d="M730 769L814 832" pathLength="2"/>
<path id="y7c16" d="M730 769L885 851" pathLength="2"/>
<path id="y7c55" d="M730 769Q686 810 685 870" pathLength="2"/>
<path id="y7c49" d="M730 769L603 889" pathLength="2"/>
<path id="y7f8" d="M755 986L721 921" pathLength="2"/>
<path id="y7f37" d="M755 986L812 887" pathLength="2"/>
<path id="y7f36" d="M755 986L883 909" pathLength="2"/>
<path id="y7f51" d="M755 986L635 935" pathLength="2"/>
<path id="y7f1" d="M755 986L791 937" pathLength="2"/>
<path id="y7f58" d="M755 986L695 968" pathLength="2"/>
<path id="y7f33" d="M755 986L885 965" pathLength="2"/>
<path id="y7f56" d="M755 986L608 994" pathLength="2"/>
<path id="y7f4" d="M755 986L814 986" pathLength="2"/>
<path id="y7f5" d="M755 986L680 1034" pathLength="2"/>
<path id="y7f9" d="M755 986L882 1033" pathLength="2"/>
<path id="y7f59" d="M755 986L742 1045" pathLength="2"/>
<path id="y7f43" d="M755 986L804 1047" pathLength="2"/>
<path id="y7f20" d="M755 986L603 1083" pathLength="2"/>
<path id="y7f11" d="M755 986L714 1125" pathLength="2"/>
<path id="y7f17" d="M755 986L767 1143" pathLength="2"/>
<path id="y7f12" d="M755 986L822 1138" pathLength="2"/>
<path id="y7f46" d="M755 986L892 1133" pathLength="2"/>
<path id="y7f60" d="M755 986L640 1155" pathLength="2"/>
</g>
<g class="k">
<use href="#y7c32"/><use href="#y7c13"/><use href="#y7c44"/><use href="#y7c3"/><use href="#y7c54"/><use href="#y7c57"/><use href="#y7c23"/><use href="#y7c24"/><use href="#y7c22"/><use href="#y7c18"/><use href="#y7c53"/><use href="#y7c15"/><use href="#y7c39"/><use href="#y7c19"/><use href="#y7c27"/><use href="#y7c42"/><use href="#y7c35"/><use href="#y7c6"/><use href="#y7c16"/><use href="#y7c55"/><use href="#y7c49"/>
<use href="#y7f8"/><use href="#y7f37"/><use href="#y7f36"/><use href="#y7f51"/><use href="#y7f1"/><use href="#y7f58"/><use href="#y7f33"/><use href="#y7f56"/><use href="#y7f4"/><use href="#y7f5"/><use href="#y7f9"/><use href="#y7f59"/><use href="#y7f43"/><use href="#y7f20"/><use href="#y7f11"/><use href="#y7f17"/><use href="#y7f12"/><use href="#y7f46"/><use href="#y7f60"/>
</g>
<g class="r">
<path id="y7a42" d="M754 878L715 823" pathLength="2"/>
<path id="y7a35" d="M754 878L760 827" pathLength="2"/>
<path id="y7a6" d="M754 878L814 832" pathLength="2"/>
<path id="y7a16" d="M754 878L885 851" pathLength="2"/>
<path id="y7a55" d="M754 878L685 870" pathLength="2"/>
<path id="y7a49" d="M754 878L603 889" pathLength="2"/>
<path id="y7a8" d="M754 878L721 921" pathLength="2"/>
</g>
<g class="bl"><use href="#y7a42"/><use href="#y7a35"/><use href="#y7a6"/><use href="#y7a16"/><use href="#y7a55"/><use href="#y7a49"/><use href="#y7a8"/></g>
<g transform="translate(1049 1001)">
<g class="o">
<path id="y7b47" d="M0 0L-108-100" pathLength="2"/>
<path id="y7b10" d="M0 0L-14-105" pathLength="2"/>
<path id="y7b40" d="M0 0L35-101" pathLength="2"/>
<path id="y7b38" d="M0 0L102-96" pathLength="2"/>
<path id="y7b50" d="M0 0L-55-85" pathLength="2"/>
<path id="y7b52" d="M0 0L-3-50" pathLength="2"/>
<path id="y7b14" d="M0 0L49-48" pathLength="2"/>
<path id="y7b48" d="M0 0L-108-36" pathLength="2"/>
<path id="y7b21" d="M0 0L-50-22" pathLength="2"/>
<path id="y7b34" d="M0 0L108-31" pathLength="2"/>
<path id="y7b2" d="M0 0L54-2" pathLength="2"/>
<path id="y7b31" d="M0 0L-109 19" pathLength="2"/>
<path id="y7b26" d="M0 0L102 29" pathLength="2"/>
<path id="y7b28" d="M0 0L-53 31" pathLength="2"/>
<path id="y7b30" d="M0 0L-6 47" pathLength="2"/>
<path id="y7b41" d="M0 0L44 42" pathLength="2"/>
<path id="y7b25" d="M0 0L-106 84" pathLength="2"/>
<path id="y7b7" d="M0 0L-41 92" pathLength="2"/>
<path id="y7b29" d="M0 0L22 94" pathLength="2"/>
<path id="y7b45" d="M0 0L94 89" pathLength="2"/>
</g>
<g class="k"><use href="#y7b47"/><use href="#y7b10"/><use href="#y7b40"/><use href="#y7b38"/><use href="#y7b50"/><use href="#y7b52"/><use href="#y7b14"/><use href="#y7b48"/><use href="#y7b21"/><use href="#y7b34"/><use href="#y7b2"/><use href="#y7b31"/><use href="#y7b26"/><use href="#y7b28"/><use href="#y7b30"/><use href="#y7b41"/><use href="#y7b25"/><use href="#y7b7"/><use href="#y7b29"/><use href="#y7b45"/></g>
</g>
</g>
<g id="y7-nodes">
<g id="y7-pg32" class="n" transform="translate(613 618)"><ellipse rx="20" ry="12"/><text y="3.3">PG_32</text></g>
<g id="y7-pg13" class="n" transform="translate(729 612)"><ellipse rx="20" ry="12"/><text y="3.3">PG_13</text></g>
<g id="y7-pg44" class="n" transform="translate(799 624)"><ellipse rx="20" ry="12"/><text y="3.3">PG_44</text></g>
<g id="y7-pg3" class="n" transform="translate(882 626)"><ellipse rx="20" ry="12"/><text y="3.3">PG_3</text></g>
<g id="y7-pg54" class="n" transform="translate(678 650)"><ellipse rx="20" ry="12"/><text y="3.3">PG_54</text></g>
<g id="y7-pg57" class="n" transform="translate(611 712)"><ellipse rx="20" ry="12"/><text y="3.3">PG_57</text></g>
<g id="y7-pg23" class="n" transform="translate(745 710)"><ellipse rx="20" ry="12"/><text y="3.3">PG_23</text></g>
<g id="y7-pg24" class="n" transform="translate(808 718)"><ellipse rx="20" ry="12"/><text y="3.3">PG_24</text></g>
<g id="y7-pg22" class="n" transform="translate(887 726)"><ellipse rx="20" ry="12"/><text y="3.3">PG_22</text></g>
<g id="y7-pg18" class="n" transform="translate(685 729)"><ellipse rx="20" ry="12"/><text y="3.3">PG_18</text></g>
<g id="y7-pg53" class="n" transform="translate(605 774)"><ellipse rx="20" ry="12"/><text y="3.3">PG_53</text></g>
<g id="y7-pg15" class="n" transform="translate(795 777)"><ellipse rx="20" ry="12"/><text y="3.3">PG_15</text></g>
<g id="y7-pg39" class="n" transform="translate(880 791)"><ellipse rx="20" ry="12"/><text y="3.3">PG_39</text></g>
<g id="y7-pg19" class="n" transform="translate(671 794)"><ellipse rx="20" ry="12"/><text y="3.3">PG_19</text></g>
<g id="y7-pg27" class="n" transform="translate(607 832)"><ellipse rx="20" ry="12"/><text y="3.3">PG_27</text></g>
<g id="y7-pg42" class="n b" transform="translate(715 823)"><ellipse rx="20" ry="12"/><text y="3.3">PG_42</text></g>
<g id="y7-pg35" class="n b" transform="translate(760 827)"><ellipse rx="20" ry="12"/><text y="3.3">PG_35</text></g>
<g id="y7-pg6" class="n b" transform="translate(814 832)"><ellipse rx="20" ry="12"/><text y="3.3">PG_6</text></g>
<g id="y7-pg16" class="n b" transform="translate(885 851)"><ellipse rx="20" ry="12"/><text y="3.3">PG_16</text></g>
<g id="y7-pg55" class="n b" transform="translate(685 870)"><ellipse rx="20" ry="12"/><text y="3.3">PG_55</text></g>
<g id="y7-pg49" class="n b" transform="translate(603 889)"><ellipse rx="20" ry="12"/><text y="3.3">PG_49</text></g>
<g id="y7-caretop" class="hub" transform="translate(730 769)"><use href="#octC"/><text y="3.3">CareTop</text></g>
<g id="y7-aco" class="aco" transform="translate(754 878)"><circle class="c1" r="21"/><circle class="c2" r="18.6"/><text y="3.3">ACO</text></g>
<g id="y7-pg8" class="n b" transform="translate(721 921)"><ellipse rx="20" ry="12"/><text y="3.3">PG_8</text></g>
<g id="y7-pg37" class="n" transform="translate(812 887)"><ellipse rx="20" ry="12"/><text y="3.3">PG_37</text></g>
<g id="y7-pg36" class="n" transform="translate(883 909)"><ellipse rx="20" ry="12"/><text y="3.3">PG_36</text></g>
<g id="y7-pg51" class="n" transform="translate(635 935)"><ellipse rx="20" ry="12"/><text y="3.3">PG_51</text></g>
<g id="y7-pg1" class="n" transform="translate(791 937)"><ellipse rx="20" ry="12"/><text y="3.3">PG_1</text></g>
<g id="y7-pg58" class="n" transform="translate(695 968)"><ellipse rx="20" ry="12"/><text y="3.3">PG_58</text></g>
<g id="y7-pg33" class="n" transform="translate(885 965)"><ellipse rx="20" ry="12"/><text y="3.3">PG_33</text></g>
<g id="y7-pg56" class="n" transform="translate(608 994)"><ellipse rx="20" ry="12"/><text y="3.3">PG_56</text></g>
<g id="y7-pg4" class="n" transform="translate(814 986)"><ellipse rx="20" ry="12"/><text y="3.3">PG_4</text></g>
<g id="y7-pg5" class="n" transform="translate(680 1034)"><ellipse rx="20" ry="12"/><text y="3.3">PG_5</text></g>
<g id="y7-pg9" class="n" transform="translate(882 1033)"><ellipse rx="20" ry="12"/><text y="3.3">PG_9</text></g>
<g id="y7-pg59" class="n" transform="translate(742 1045)"><ellipse rx="20" ry="12"/><text y="3.3">PG_59</text></g>
<g id="y7-pg43" class="n" transform="translate(804 1047)"><ellipse rx="20" ry="12"/><text y="3.3">PG_43</text></g>
<g id="y7-pg20" class="n" transform="translate(603 1083)"><ellipse rx="20" ry="12"/><text y="3.3">PG_20</text></g>
<g id="y7-pg11" class="n" transform="translate(714 1125)"><ellipse rx="20" ry="12"/><text y="3.3">PG_11</text></g>
<g id="y7-pg17" class="n" transform="translate(767 1143)"><ellipse rx="20" ry="12"/><text y="3.3">PG_17</text></g>
<g id="y7-pg12" class="n" transform="translate(822 1138)"><ellipse rx="20" ry="12"/><text y="3.3">PG_12</text></g>
<g id="y7-pg46" class="n" transform="translate(892 1133)"><ellipse rx="20" ry="12"/><text y="3.3">PG_46</text></g>
<g id="y7-pg60" class="n" transform="translate(640 1155)"><ellipse rx="20" ry="12"/><text y="3.3">PG_60</text></g>
<g id="y7-affordme" class="hub" transform="translate(755 986)"><use href="#octA"/><text y="3.3">AffordMe</text></g>
<g transform="translate(1049 1001)">
<g id="y7-pg47" class="n" transform="translate(-108 -100)"><ellipse rx="20" ry="12"/><text y="3.3">PG_47</text></g>
<g id="y7-pg10" class="n" transform="translate(-14 -105)"><ellipse rx="20" ry="12"/><text y="3.3">PG_10</text></g>
<g id="y7-pg40" class="n" transform="translate(35 -101)"><ellipse rx="20" ry="12"/><text y="3.3">PG_40</text></g>
<g id="y7-pg38" class="n" transform="translate(102 -96)"><ellipse rx="20" ry="12"/><text y="3.3">PG_38</text></g>
<g id="y7-pg50" class="n" transform="translate(-55 -85)"><ellipse rx="20" ry="12"/><text y="3.3">PG_50</text></g>
<g id="y7-pg52" class="n" transform="translate(-3 -50)"><ellipse rx="20" ry="12"/><text y="3.3">PG_52</text></g>
<g id="y7-pg14" class="n" transform="translate(49 -48)"><ellipse rx="20" ry="12"/><text y="3.3">PG_14</text></g>
<g id="y7-pg48" class="n" transform="translate(-108 -36)"><ellipse rx="20" ry="12"/><text y="3.3">PG_48</text></g>
<g id="y7-pg21" class="n" transform="translate(-50 -22)"><ellipse rx="20" ry="12"/><text y="3.3">PG_21</text></g>
<g id="y7-pg34" class="n" transform="translate(108 -31)"><ellipse rx="20" ry="12"/><text y="3.3">PG_34</text></g>
<g id="y7-pg2" class="n" transform="translate(54 -2)"><ellipse rx="20" ry="12"/><text y="3.3">PG_2</text></g>
<g id="y7-pg31" class="n" transform="translate(-109 19)"><ellipse rx="20" ry="12"/><text y="3.3">PG_31</text></g>
<g id="y7-pg26" class="n" transform="translate(102 29)"><ellipse rx="20" ry="12"/><text y="3.3">PG_26</text></g>
<g id="y7-pg28" class="n" transform="translate(-53 31)"><ellipse rx="20" ry="12"/><text y="3.3">PG_28</text></g>
<g id="y7-pg30" class="n" transform="translate(-6 47)"><ellipse rx="20" ry="12"/><text y="3.3">PG_30</text></g>
<g id="y7-pg41" class="n" transform="translate(44 42)"><ellipse rx="20" ry="12"/><text y="3.3">PG_41</text></g>
<g id="y7-pg25" class="n" transform="translate(-106 84)"><ellipse rx="20" ry="12"/><text y="3.3">PG_25</text></g>
<g id="y7-pg7" class="n" transform="translate(-41 92)"><ellipse rx="20" ry="12"/><text y="3.3">PG_7</text></g>
<g id="y7-pg29" class="n" transform="translate(22 94)"><ellipse rx="20" ry="12"/><text y="3.3">PG_29</text></g>
<g id="y7-pg45" class="n" transform="translate(94 89)"><ellipse rx="20" ry="12"/><text y="3.3">PG_45</text></g>
<g id="y7-betterlife" class="hub"><use href="#octB"/><text y="3.3">BetterLife</text></g>
<g id="y7-bl-crossings" clip-path="url(#blx)"><g class="o"><use href="#y7b10"/><use href="#y7b38"/><use href="#y7b48"/><use href="#y7b25"/><use href="#y7b7"/><use href="#y7b29"/><use href="#y7b45"/></g><g class="k"><use href="#y7b10"/><use href="#y7b38"/><use href="#y7b48"/><use href="#y7b25"/><use href="#y7b7"/><use href="#y7b29"/><use href="#y7b45"/></g></g>
</g>
</g>
</g>

<!-- ================= YEAR 9 ================= -->
<g id="panel-year9">
<text class="t" x="177" y="1102">Growth of ACO: Year 9</text>
<g id="y9-connectors">
<g class="o">
<path id="y9c55" d="M166 1282L125 1128" pathLength="2"/>
<path id="y9c35" d="M166 1282L238 1133" pathLength="2"/>
<path id="y9c49" d="M166 1282L32 1154" pathLength="2"/>
<path id="y9c16" d="M166 1282L335 1155" pathLength="2"/>
<path id="y9c42" d="M166 1282L183 1209" pathLength="2"/>
<path id="y9c13" d="M166 1282L113 1245" pathLength="2"/>
<path id="y9c6" d="M166 1282L270 1250" pathLength="2"/>
<path id="y9c32" d="M166 1282L37 1270" pathLength="2"/>
<path id="y9c44" d="M166 1282L217 1275" pathLength="2"/>
<path id="y9c3" d="M166 1282L342 1287" pathLength="2"/>
<path id="y9c54" d="M166 1282L118 1320" pathLength="2"/>
<path id="y9c24" d="M166 1282L258 1334" pathLength="2"/>
<path id="y9c23" d="M166 1282L187 1337" pathLength="2"/>
<path id="y9c57" d="M166 1282L35 1342" pathLength="2"/>
<path id="y9c22" d="M166 1282L335 1368" pathLength="2"/>
<path id="y9c18" d="M166 1282L123 1373" pathLength="2"/>
<path id="y9c15" d="M166 1282L220 1382" pathLength="2"/>
<path id="y9c53" d="M166 1282L60 1390" pathLength="2"/>
<path id="y9c39" d="M166 1282L263 1408" pathLength="2"/>
<path id="y9c19" d="M166 1282L123 1430" pathLength="2"/>
<path id="y9c27" d="M166 1282L27 1437" pathLength="2"/>
<path id="y9f8" d="M187 1530L193 1437" pathLength="2"/>
<path id="y9f36" d="M187 1530L338 1435" pathLength="2"/>
<path id="y9f51" d="M187 1530L80 1476" pathLength="2"/>
<path id="y9f37" d="M187 1530L257 1463" pathLength="2"/>
<path id="y9f58" d="M187 1530L139 1486" pathLength="2"/>
<path id="y9f1" d="M187 1530L200 1482" pathLength="2"/>
<path id="y9f33" d="M187 1530L337 1502" pathLength="2"/>
<path id="y9f56" d="M187 1530L33 1520" pathLength="2"/>
<path id="y9f4" d="M187 1530L255 1521" pathLength="2"/>
<path id="y9f5" d="M187 1530L120 1550" pathLength="2"/>
<path id="y9f9" d="M187 1530L332 1577" pathLength="2"/>
<path id="y9f20" d="M187 1530L45 1592" pathLength="2"/>
<path id="y9f43" d="M187 1530L242 1587" pathLength="2"/>
<path id="y9f59" d="M187 1530L173 1595" pathLength="2"/>
<path id="y9f11" d="M187 1530L123 1658" pathLength="2"/>
<path id="y9f12" d="M187 1530L252 1690" pathLength="2"/>
<path id="y9f46" d="M187 1530L333 1692" pathLength="2"/>
<path id="y9f60" d="M187 1530L47 1702" pathLength="2"/>
<path id="y9f17" d="M187 1530L180 1713" pathLength="2"/>
</g>
<g class="k">
<use href="#y9c55"/><use href="#y9c35"/><use href="#y9c49"/><use href="#y9c16"/><use href="#y9c42"/><use href="#y9c13"/><use href="#y9c6"/><use href="#y9c32"/><use href="#y9c44"/><use href="#y9c3"/><use href="#y9c54"/><use href="#y9c24"/><use href="#y9c23"/><use href="#y9c57"/><use href="#y9c22"/><use href="#y9c18"/><use href="#y9c15"/><use href="#y9c53"/><use href="#y9c39"/><use href="#y9c19"/><use href="#y9c27"/>
<use href="#y9f8"/><use href="#y9f36"/><use href="#y9f51"/><use href="#y9f37"/><use href="#y9f58"/><use href="#y9f1"/><use href="#y9f33"/><use href="#y9f56"/><use href="#y9f4"/><use href="#y9f5"/><use href="#y9f9"/><use href="#y9f20"/><use href="#y9f43"/><use href="#y9f59"/><use href="#y9f11"/><use href="#y9f12"/><use href="#y9f46"/><use href="#y9f60"/><use href="#y9f17"/>
</g>
<g class="r">
<path id="y9a13" d="M171 1394L113 1245" pathLength="2"/>
<path id="y9a6" d="M171 1394L270 1250" pathLength="2"/>
<path id="y9a32" d="M171 1394L37 1270" pathLength="2"/>
<path id="y9a44" d="M171 1394L217 1275" pathLength="2"/>
<path id="y9a3" d="M171 1394L342 1287" pathLength="2"/>
<path id="y9a54" d="M171 1394L118 1320" pathLength="2"/>
<path id="y9a24" d="M171 1394L258 1334" pathLength="2"/>
<path id="y9a23" d="M171 1394L187 1337" pathLength="2"/>
<path id="y9a57" d="M171 1394L35 1342" pathLength="2"/>
<path id="y9a22" d="M171 1394L335 1368" pathLength="2"/>
<path id="y9a18" d="M171 1394L123 1373" pathLength="2"/>
<path id="y9a15" d="M171 1394L220 1382" pathLength="2"/>
<path id="y9a53" d="M171 1394L60 1390" pathLength="2"/>
<path id="y9a39" d="M171 1394L263 1408" pathLength="2"/>
<path id="y9a19" d="M171 1394L123 1430" pathLength="2"/>
<path id="y9a27" d="M171 1394L27 1437" pathLength="2"/>
<path id="y9a8" d="M171 1394L193 1437" pathLength="2"/>
</g>
<g class="bl"><use href="#y9a13"/><use href="#y9a6"/><use href="#y9a32"/><use href="#y9a44"/><use href="#y9a3"/><use href="#y9a54"/><use href="#y9a24"/><use href="#y9a23"/><use href="#y9a57"/><use href="#y9a22"/><use href="#y9a18"/><use href="#y9a15"/><use href="#y9a53"/><use href="#y9a39"/><use href="#y9a19"/><use href="#y9a27"/><use href="#y9a8"/></g>
<g transform="translate(505 1592)">
<g class="o">
<path id="y9b47" d="M0 0L-108-100" pathLength="2"/>
<path id="y9b10" d="M0 0L-14-105" pathLength="2"/>
<path id="y9b40" d="M0 0L35-101" pathLength="2"/>
<path id="y9b38" d="M0 0L102-96" pathLength="2"/>
<path id="y9b50" d="M0 0L-55-85" pathLength="2"/>
<path id="y9b52" d="M0 0L-3-50" pathLength="2"/>
<path id="y9b14" d="M0 0L49-48" pathLength="2"/>
<path id="y9b48" d="M0 0L-108-36" pathLength="2"/>
<path id="y9b21" d="M0 0L-50-22" pathLength="2"/>
<path id="y9b34" d="M0 0L108-31" pathLength="2"/>
<path id="y9b2" d="M0 0L54-2" pathLength="2"/>
<path id="y9b31" d="M0 0L-109 19" pathLength="2"/>
<path id="y9b26" d="M0 0L102 29" pathLength="2"/>
<path id="y9b28" d="M0 0L-53 31" pathLength="2"/>
<path id="y9b30" d="M0 0L-6 47" pathLength="2"/>
<path id="y9b41" d="M0 0L44 42" pathLength="2"/>
<path id="y9b25" d="M0 0L-106 84" pathLength="2"/>
<path id="y9b7" d="M0 0L-41 92" pathLength="2"/>
<path id="y9b29" d="M0 0L22 94" pathLength="2"/>
<path id="y9b45" d="M0 0L94 89" pathLength="2"/>
</g>
<g class="k"><use href="#y9b47"/><use href="#y9b10"/><use href="#y9b40"/><use href="#y9b38"/><use href="#y9b50"/><use href="#y9b52"/><use href="#y9b14"/><use href="#y9b48"/><use href="#y9b21"/><use href="#y9b34"/><use href="#y9b2"/><use href="#y9b31"/><use href="#y9b26"/><use href="#y9b28"/><use href="#y9b30"/><use href="#y9b41"/><use href="#y9b25"/><use href="#y9b7"/><use href="#y9b29"/><use href="#y9b45"/></g>
</g>
</g>
<g id="y9-nodes">
<g id="y9-pg55" class="n" transform="translate(125 1128)"><ellipse rx="20" ry="12"/><text y="3.3">PG_55</text></g>
<g id="y9-pg35" class="n" transform="translate(238 1133)"><ellipse rx="20" ry="12"/><text y="3.3">PG_35</text></g>
<g id="y9-pg49" class="n" transform="translate(32 1154)"><ellipse rx="20" ry="12"/><text y="3.3">PG_49</text></g>
<g id="y9-pg16" class="n" transform="translate(335 1155)"><ellipse rx="20" ry="12"/><text y="3.3">PG_16</text></g>
<g id="y9-pg42" class="n" transform="translate(183 1209)"><ellipse rx="20" ry="12"/><text y="3.3">PG_42</text></g>
<g id="y9-pg13" class="n b" transform="translate(113 1245)"><ellipse rx="20" ry="12"/><text y="3.3">PG_13</text></g>
<g id="y9-pg6" class="n b" transform="translate(270 1250)"><ellipse rx="20" ry="12"/><text y="3.3">PG_6</text></g>
<g id="y9-pg32" class="n b" transform="translate(37 1270)"><ellipse rx="20" ry="12"/><text y="3.3">PG_32</text></g>
<g id="y9-pg44" class="n b" transform="translate(217 1275)"><ellipse rx="20" ry="12"/><text y="3.3">PG_44</text></g>
<g id="y9-pg3" class="n b" transform="translate(342 1287)"><ellipse rx="20" ry="12"/><text y="3.3">PG_3</text></g>
<g id="y9-pg54" class="n b" transform="translate(118 1320)"><ellipse rx="20" ry="12"/><text y="3.3">PG_54</text></g>
<g id="y9-pg24" class="n b" transform="translate(258 1334)"><ellipse rx="20" ry="12"/><text y="3.3">PG_24</text></g>
<g id="y9-pg23" class="n b" transform="translate(187 1337)"><ellipse rx="20" ry="12"/><text y="3.3">PG_23</text></g>
<g id="y9-pg57" class="n b" transform="translate(35 1342)"><ellipse rx="20" ry="12"/><text y="3.3">PG_57</text></g>
<g id="y9-pg22" class="n b" transform="translate(335 1368)"><ellipse rx="20" ry="12"/><text y="3.3">PG_22</text></g>
<g id="y9-pg18" class="n b" transform="translate(123 1373)"><ellipse rx="20" ry="12"/><text y="3.3">PG_18</text></g>
<g id="y9-pg15" class="n b" transform="translate(220 1382)"><ellipse rx="20" ry="12"/><text y="3.3">PG_15</text></g>
<g id="y9-pg53" class="n b" transform="translate(60 1390)"><ellipse rx="20" ry="12"/><text y="3.3">PG_53</text></g>
<g id="y9-pg39" class="n b" transform="translate(263 1408)"><ellipse rx="20" ry="12"/><text y="3.3">PG_39</text></g>
<g id="y9-pg19" class="n b" transform="translate(123 1430)"><ellipse rx="20" ry="12"/><text y="3.3">PG_19</text></g>
<g id="y9-pg27" class="n b" transform="translate(27 1437)"><ellipse rx="20" ry="12"/><text y="3.3">PG_27</text></g>
<g id="y9-caretop" class="hub" transform="translate(166 1282)"><use href="#octC"/><text y="3.3">CareTop</text></g>
<g id="y9-aco" class="aco" transform="translate(171 1394)"><circle class="c1" r="21"/><circle class="c2" r="18.6"/><text y="3.3">ACO</text></g>
<g id="y9-pg8" class="n b" transform="translate(193 1437)"><ellipse rx="20" ry="12"/><text y="3.3">PG_8</text></g>
<g id="y9-pg36" class="n" transform="translate(338 1435)"><ellipse rx="20" ry="12"/><text y="3.3">PG_36</text></g>
<g id="y9-pg51" class="n" transform="translate(80 1476)"><ellipse rx="20" ry="12"/><text y="3.3">PG_51</text></g>
<g id="y9-pg37" class="n" transform="translate(257 1463)"><ellipse rx="20" ry="12"/><text y="3.3">PG_37</text></g>
<g id="y9-pg58" class="n" transform="translate(139 1486)"><ellipse rx="20" ry="12"/><text y="3.3">PG_58</text></g>
<g id="y9-pg1" class="n" transform="translate(200 1482)"><ellipse rx="20" ry="12"/><text y="3.3">PG_1</text></g>
<g id="y9-pg33" class="n" transform="translate(337 1502)"><ellipse rx="20" ry="12"/><text y="3.3">PG_33</text></g>
<g id="y9-pg56" class="n" transform="translate(33 1520)"><ellipse rx="20" ry="12"/><text y="3.3">PG_56</text></g>
<g id="y9-pg4" class="n" transform="translate(255 1521)"><ellipse rx="20" ry="12"/><text y="3.3">PG_4</text></g>
<g id="y9-pg5" class="n" transform="translate(120 1550)"><ellipse rx="20" ry="12"/><text y="3.3">PG_5</text></g>
<g id="y9-pg9" class="n" transform="translate(332 1577)"><ellipse rx="20" ry="12"/><text y="3.3">PG_9</text></g>
<g id="y9-pg20" class="n" transform="translate(45 1592)"><ellipse rx="20" ry="12"/><text y="3.3">PG_20</text></g>
<g id="y9-pg43" class="n" transform="translate(242 1587)"><ellipse rx="20" ry="12"/><text y="3.3">PG_43</text></g>
<g id="y9-pg59" class="n" transform="translate(173 1595)"><ellipse rx="20" ry="12"/><text y="3.3">PG_59</text></g>
<g id="y9-pg11" class="n" transform="translate(123 1658)"><ellipse rx="20" ry="12"/><text y="3.3">PG_11</text></g>
<g id="y9-pg12" class="n" transform="translate(252 1690)"><ellipse rx="20" ry="12"/><text y="3.3">PG_12</text></g>
<g id="y9-pg46" class="n" transform="translate(333 1692)"><ellipse rx="20" ry="12"/><text y="3.3">PG_46</text></g>
<g id="y9-pg60" class="n" transform="translate(47 1702)"><ellipse rx="20" ry="12"/><text y="3.3">PG_60</text></g>
<g id="y9-pg17" class="n" transform="translate(180 1713)"><ellipse rx="20" ry="12"/><text y="3.3">PG_17</text></g>
<g id="y9-affordme" class="hub" transform="translate(187 1530)"><use href="#octA"/><text y="3.3">AffordMe</text></g>
<g transform="translate(505 1592)">
<g id="y9-pg47" class="n" transform="translate(-108 -100)"><ellipse rx="20" ry="12"/><text y="3.3">PG_47</text></g>
<g id="y9-pg10" class="n" transform="translate(-14 -105)"><ellipse rx="20" ry="12"/><text y="3.3">PG_10</text></g>
<g id="y9-pg40" class="n" transform="translate(35 -101)"><ellipse rx="20" ry="12"/><text y="3.3">PG_40</text></g>
<g id="y9-pg38" class="n" transform="translate(102 -96)"><ellipse rx="20" ry="12"/><text y="3.3">PG_38</text></g>
<g id="y9-pg50" class="n" transform="translate(-55 -85)"><ellipse rx="20" ry="12"/><text y="3.3">PG_50</text></g>
<g id="y9-pg52" class="n" transform="translate(-3 -50)"><ellipse rx="20" ry="12"/><text y="3.3">PG_52</text></g>
<g id="y9-pg14" class="n" transform="translate(49 -48)"><ellipse rx="20" ry="12"/><text y="3.3">PG_14</text></g>
<g id="y9-pg48" class="n" transform="translate(-108 -36)"><ellipse rx="20" ry="12"/><text y="3.3">PG_48</text></g>
<g id="y9-pg21" class="n" transform="translate(-50 -22)"><ellipse rx="20" ry="12"/><text y="3.3">PG_21</text></g>
<g id="y9-pg34" class="n" transform="translate(108 -31)"><ellipse rx="20" ry="12"/><text y="3.3">PG_34</text></g>
<g id="y9-pg2" class="n" transform="translate(54 -2)"><ellipse rx="20" ry="12"/><text y="3.3">PG_2</text></g>
<g id="y9-pg31" class="n" transform="translate(-109 19)"><ellipse rx="20" ry="12"/><text y="3.3">PG_31</text></g>
<g id="y9-pg26" class="n" transform="translate(102 29)"><ellipse rx="20" ry="12"/><text y="3.3">PG_26</text></g>
<g id="y9-pg28" class="n" transform="translate(-53 31)"><ellipse rx="20" ry="12"/><text y="3.3">PG_28</text></g>
<g id="y9-pg30" class="n" transform="translate(-6 47)"><ellipse rx="20" ry="12"/><text y="3.3">PG_30</text></g>
<g id="y9-pg41" class="n" transform="translate(44 42)"><ellipse rx="20" ry="12"/><text y="3.3">PG_41</text></g>
<g id="y9-pg25" class="n" transform="translate(-106 84)"><ellipse rx="20" ry="12"/><text y="3.3">PG_25</text></g>
<g id="y9-pg7" class="n" transform="translate(-41 92)"><ellipse rx="20" ry="12"/><text y="3.3">PG_7</text></g>
<g id="y9-pg29" class="n" transform="translate(22 94)"><ellipse rx="20" ry="12"/><text y="3.3">PG_29</text></g>
<g id="y9-pg45" class="n" transform="translate(94 89)"><ellipse rx="20" ry="12"/><text y="3.3">PG_45</text></g>
<g id="y9-betterlife" class="hub"><use href="#octB"/><text y="3.3">BetterLife</text></g>
<g id="y9-bl-crossings" clip-path="url(#blx)"><g class="o"><use href="#y9b10"/><use href="#y9b38"/><use href="#y9b48"/><use href="#y9b25"/><use href="#y9b7"/><use href="#y9b29"/><use href="#y9b45"/></g><g class="k"><use href="#y9b10"/><use href="#y9b38"/><use href="#y9b48"/><use href="#y9b25"/><use href="#y9b7"/><use href="#y9b29"/><use href="#y9b45"/></g></g>
</g>
</g>
</g>
</svg>
